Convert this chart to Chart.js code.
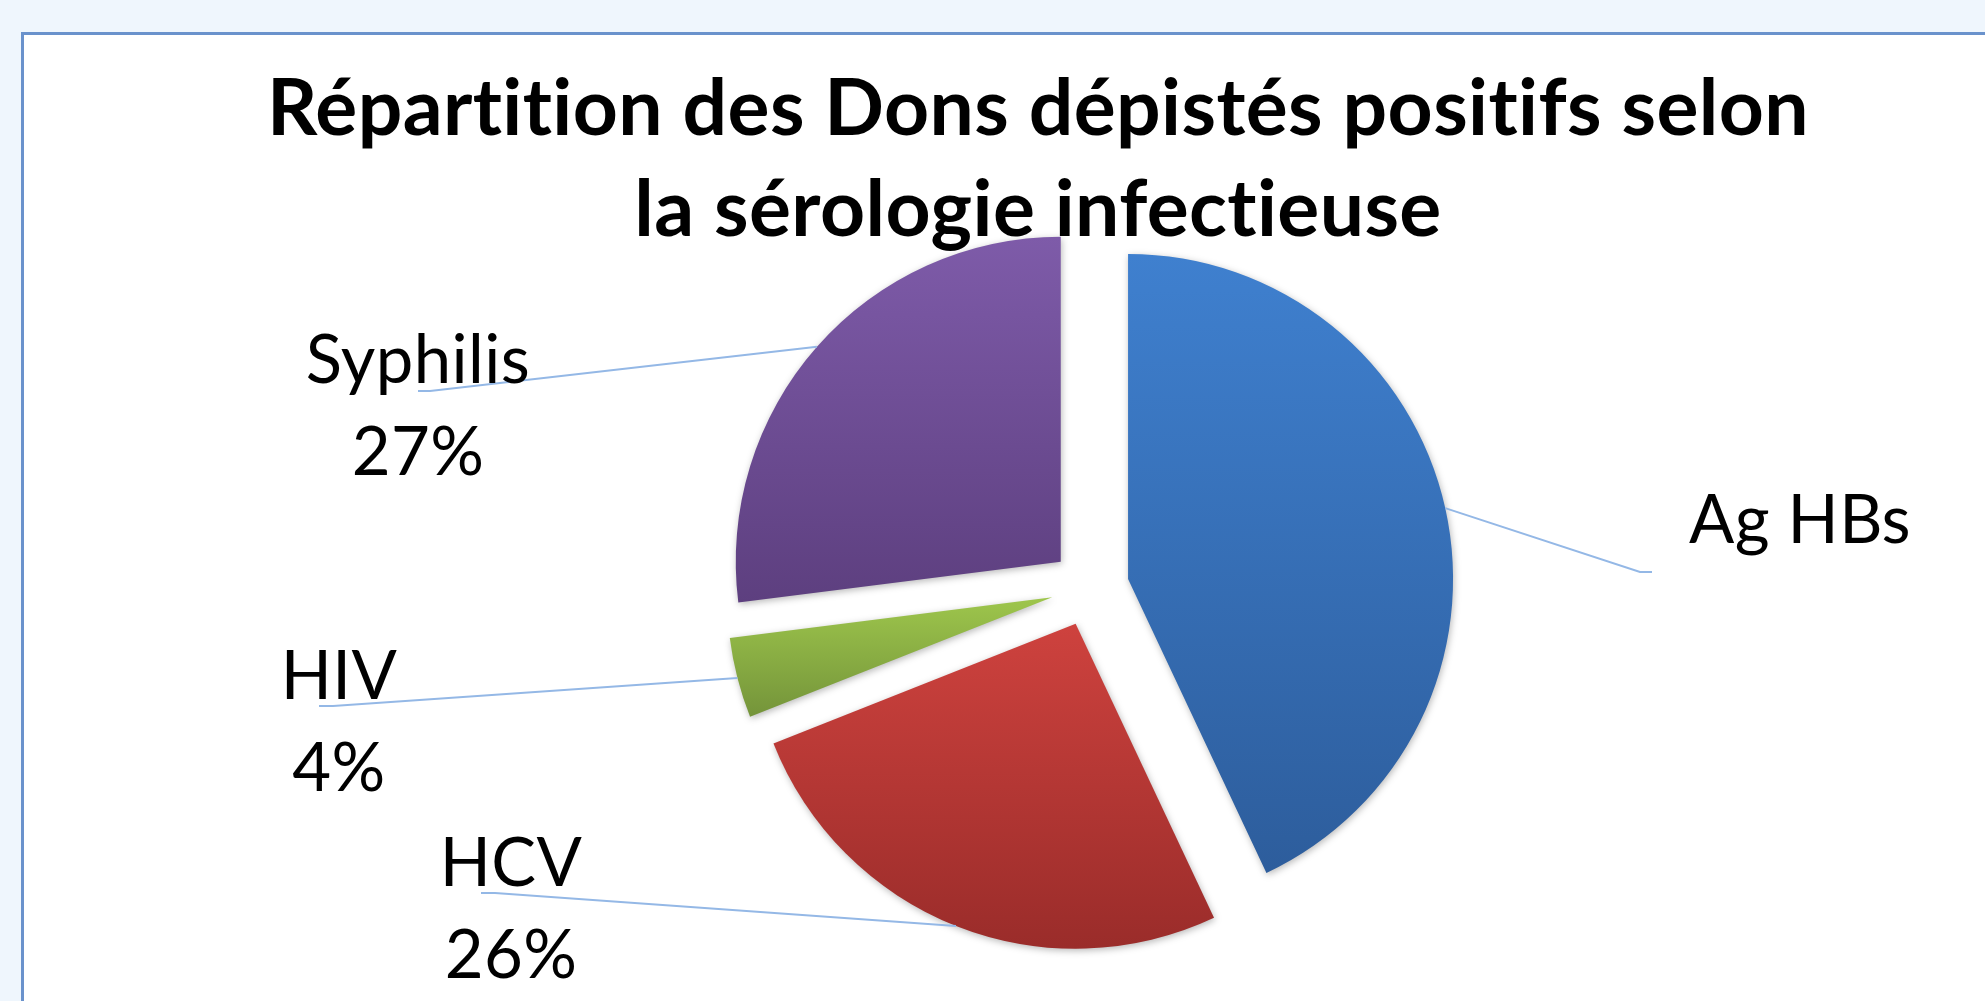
<!DOCTYPE html>
<html>
<head>
<meta charset="utf-8">
<script src="https://cdn.jsdelivr.net/npm/chart.js@4.4.0/dist/chart.umd.min.js"></script>
<style>
  html, body { margin: 0; padding: 0; width: 1985px; height: 1001px; overflow: hidden; background: #EFF6FD; }
  #frame { position: absolute; left: 21px; top: 32px; width: 2200px; height: 1200px; background: #ffffff;
           border: 3px solid #6A92CC; box-sizing: border-box; }
  #wrap { position: absolute; left: 0; top: 0; width: 1985px; height: 1001px; }
</style>
</head>
<body>
<div id="frame"></div>
<div id="wrap"><canvas id="chart" width="1985" height="1001"></canvas></div>
<script>
// ---- data ----
const categories = ['Ag HBs', 'HCV', 'HIV', 'Syphilis'];
const values = [43, 26, 4, 27];
const showPercent = [false, true, true, true];
const titleLines = ['Répartition des Dons dépistés positifs selon', 'la sérologie infectieuse'];

// ---- styles ----
const topColors = ['#3F80CF', '#CE423E', '#9EC64C', '#7E5BA9'];
const bottomColors = ['#2D5D9C', '#9A2C2A', '#74943A', '#5D3F7F'];
const RADIUS = 325;
const EXPLODE = 39;               // pixel distance each slice is pulled out from the centre
const LEFT_SPACER = 104;
const LABEL_FONT = '67px Lato';
const LABEL_LINE = 92;
// label layout relative to the pie centre: text centre x, first baseline y, leader end / bend
const labelLayout = [
  { tx: 710, ty: -44.5, ex: 562, ey: -15.5, bx: 550 },
  { tx: -579, ty: 298.5, ex: -609, ey: 305.5, bx: -595 },
  { tx: -751, ty: 111.5, ex: -771, ey: 118.5, bx: -757 },
  { tx: -672, ty: -204.5, ex: -672, ey: -196.5, bx: -660 }
];

function sliceGeometry(chart, i) {
  const area = chart.chartArea;
  const cx = (area.left + area.right) / 2, cy = (area.top + area.bottom) / 2;
  const total = values.reduce((a, b) => a + b, 0);
  let cum = 0;
  for (let k = 0; k < i; k++) cum += values[k];
  const a0 = -Math.PI / 2 + cum / total * 2 * Math.PI;
  const a1 = a0 + values[i] / total * 2 * Math.PI;
  return { cx, cy, a0, a1, mid: (a0 + a1) / 2 };
}

// vertical gradient over each slice's own bounding box (in un-translated arc coordinates)
function sliceGradient(context) {
  const chart = context.chart;
  const i = context.dataIndex;
  if (!chart.chartArea) return topColors[i];
  const g = sliceGeometry(chart, i);
  const oy = g.cy;
  const ys = [oy, oy + RADIUS * Math.sin(g.a0), oy + RADIUS * Math.sin(g.a1)];
  for (const t of [-Math.PI / 2, Math.PI / 2, 3 * Math.PI / 2]) {
    if (t >= g.a0 && t <= g.a1) ys.push(oy + RADIUS * Math.sin(t));
  }
  const y0 = Math.min(...ys), y1 = Math.max(...ys);
  const grad = chart.ctx.createLinearGradient(0, y0, 0, y1);
  grad.addColorStop(0, topColors[i]);
  grad.addColorStop(1, bottomColors[i]);
  return grad;
}

const leftSpacer = {
  id: 'leftSpacer',
  beforeInit(chart) {
    const box = {
      position: 'left', weight: 100, fullSize: false, options: {},
      top: 0, left: 0, right: 0, bottom: 0, width: 0, height: 0,
      isHorizontal() { return false; },
      update(maxWidth, maxHeight) { this.width = LEFT_SPACER; this.height = maxHeight; },
      draw() {}
    };
    Chart.layouts.addBox(chart, box);
  }
};

const noLigatures = {
  id: 'noLigatures',
  beforeDraw(chart) { chart.ctx.letterSpacing = '0.4px'; }
};

// draws each library arc pulled out along its bisector, with a soft shadow
const explodedSlices = {
  id: 'explodedSlices',
  beforeDatasetDraw(chart, args) {
    const ctx = chart.ctx;
    args.meta.data.forEach((arc) => {
      const mid = (arc.startAngle + arc.endAngle) / 2;
      ctx.save();
      ctx.shadowColor = 'rgba(0,0,0,0.28)';
      ctx.shadowBlur = 7;
      ctx.shadowOffsetX = 1;
      ctx.shadowOffsetY = 2;
      ctx.translate(Math.cos(mid) * EXPLODE, Math.sin(mid) * EXPLODE);
      arc.draw(ctx, chart.chartArea);
      ctx.restore();
    });
    return false;
  }
};

const leaderLabels = {
  id: 'leaderLabels',
  afterDatasetsDraw(chart) {
    const ctx = chart.ctx;
    const meta = chart.getDatasetMeta(0);
    const total = values.reduce((a, b) => a + b, 0);
    meta.data.forEach((arc, i) => {
      const p = arc.getProps(['x', 'y', 'startAngle', 'endAngle', 'outerRadius']);
      const mid = (p.startAngle + p.endAngle) / 2;
      const sx = p.x + (p.outerRadius + EXPLODE) * Math.cos(mid);
      const sy = p.y + (p.outerRadius + EXPLODE) * Math.sin(mid);
      const L = labelLayout[i];
      ctx.save();
      ctx.letterSpacing = '0.4px';
      ctx.strokeStyle = '#94B8E6';
      ctx.lineWidth = 2;
      ctx.beginPath();
      ctx.moveTo(sx, sy);
      ctx.lineTo(p.x + L.bx, p.y + L.ey);
      ctx.lineTo(p.x + L.ex, p.y + L.ey);
      ctx.stroke();
      ctx.fillStyle = '#000000';
      ctx.font = LABEL_FONT;
      ctx.textAlign = 'center';
      ctx.textBaseline = 'alphabetic';
      ctx.fillText(categories[i], p.x + L.tx, p.y + L.ty);
      if (showPercent[i]) {
        const pct = Math.round(values[i] / total * 100) + '%';
        ctx.fillText(pct, p.x + L.tx, p.y + L.ty + LABEL_LINE);
      }
      ctx.restore();
    });
  }
};

new Chart(document.getElementById('chart'), {
  type: 'pie',
  data: {
    labels: categories,
    datasets: [{
      data: values,
      backgroundColor: sliceGradient,
      borderWidth: 0,
      offset: 0,
      radius: RADIUS,
      clip: false
    }]
  },
  options: {
    responsive: false,
    animation: false,
    devicePixelRatio: 1,
    events: [],
    layout: { padding: { left: 91, right: 0, top: 0, bottom: 87.5 } },
    plugins: {
      legend: { display: false },
      tooltip: { enabled: false },
      title: {
        display: true,
        text: titleLines,
        color: '#000000',
        font: { family: 'Lato', weight: 'bold', size: 78.6, lineHeight: 101 / 78.6 },
        padding: { top: 59.5, bottom: 0 }
      }
    }
  },
  plugins: [leftSpacer, noLigatures, explodedSlices, leaderLabels]
});
</script>
</body>
</html>
